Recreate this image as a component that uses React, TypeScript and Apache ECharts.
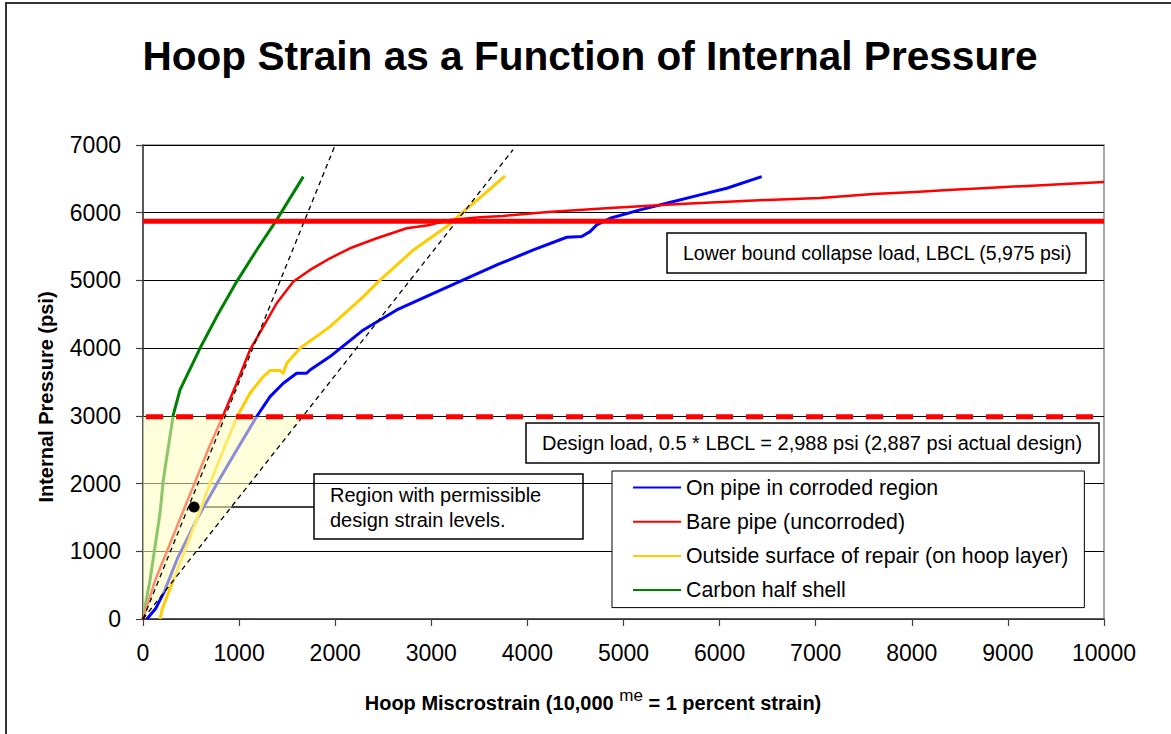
import React, { useEffect, useRef } from "react";
import * as echarts from "echarts";

const FONT = "'Liberation Sans', Arial, Helvetica, sans-serif";

// Axis ranges
const X_MIN = 0;
const X_MAX = 10000;
const X_STEP = 1000;
const Y_MIN = 0;
const Y_MAX = 7000;
const Y_STEP = 1000;

// Series names
const NAME_BLUE = "On pipe in corroded region";
const NAME_RED = "Bare pipe (uncorroded)";
const NAME_YELLOW = "Outside surface of repair (on hoop layer)";
const NAME_GREEN = "Carbon half shell";

// On pipe in corroded region
const blueX = [40, 130, 220, 360, 575, 773, 975, 1190, 1322, 1460, 1599, 1703, 1738, 1946, 2293, 2640, 2986, 3334, 3700, 4062, 4409, 4565, 4652, 4721, 4860, 5172, 5449, 5796, 6074, 6438];
const blueY = [0, 150, 400, 900, 1511, 2009, 2496, 3005, 3284, 3481, 3629, 3629, 3678, 3875, 4269, 4564, 4786, 5007, 5240, 5450, 5638, 5648, 5721, 5820, 5918, 6042, 6140, 6263, 6362, 6533];

// Bare pipe (uncorroded)
const redX = [0, 128, 409, 690, 836, 975, 1113, 1252, 1391, 1565, 1738, 1946, 2154, 2432, 2744, 2986, 3195, 3507, 3747, 4214, 4860, 5588, 6493, 7045, 7597, 8034, 8377, 8783, 9199, 9594, 10000];
const redY = [0, 576, 1561, 2545, 3013, 3481, 3973, 4318, 4663, 4983, 5155, 5327, 5475, 5623, 5770, 5820, 5894, 5933, 5953, 6012, 6071, 6130, 6189, 6219, 6278, 6307, 6337, 6366, 6396, 6425, 6455];

// Outside surface of repair (on hoop layer)
const yellowX = [177, 200, 315, 437, 558, 697, 836, 985, 1113, 1252, 1322, 1426, 1460, 1495, 1634, 1946, 2293, 2449, 2814, 3160, 3334, 3542, 3767];
const yellowY = [0, 150, 576, 1019, 1462, 2004, 2496, 3005, 3334, 3580, 3669, 3669, 3629, 3777, 3998, 4318, 4761, 4983, 5450, 5795, 6017, 6263, 6544];

// Carbon half shell
const greenX = [0, 30, 73, 125, 177, 211, 264, 315, 385, 593, 767, 975, 1183, 1391, 1668];
const greenY = [0, 250, 576, 1068, 1561, 2053, 2545, 3013, 3383, 3998, 4466, 4983, 5450, 5894, 6533];

// Dashed reference (linear-elastic) lines
const ref1X = [0, 2000];
const ref1Y = [0, 7000];
const ref2X = [0, 3850];
const ref2Y = [0, 6930];

// Load levels
const LBCL_LEVEL = 5875;
const DESIGN_LEVEL = 2988;
const levelX = [0, 10000];

// Permissible region polygon
const regionX = [0, 0, 1660];
const regionY = [0, 2988, 2988];

// Annotation dot
const dotX = [531];
const dotY = [1654];

const TITLE = "Hoop Strain as a Function of Internal Pressure";
const Y_NAME = "Internal Pressure (psi)";
const LBCL_TEXT = "Lower bound collapse load, LBCL (5,975 psi)";
const DESIGN_TEXT = "Design load, 0.5 * LBCL = 2,988 psi (2,887 psi actual design)";
const REGION_TEXT = "Region with permissible\ndesign strain levels.";

const zip = (xs: number[], ys: number[]) => xs.map((x, i) => [x, ys[i]]);

const curve = (name: string, xs: number[], ys: number[], color: string, width: number) => ({
  name,
  type: "line",
  data: zip(xs, ys),
  showSymbol: false,
  symbol: "none",
  smooth: false,
  z: 2,
  itemStyle: { color },
  lineStyle: { color, width, join: "round" },
});

const plain = (v: number) => String(v);

export default function App() {
  const ref = useRef<HTMLDivElement>(null);

  useEffect(() => {
    if (!ref.current) return;
    const chart = echarts.init(ref.current, undefined, { renderer: "svg" });

    const option: any = {
      animation: false,
      backgroundColor: "#ffffff",
      grid: {
        left: 143,
        top: 145,
        width: 961,
        height: 474,
        show: true,
        borderColor: "#8a8a8a",
        borderWidth: 1.5,
      },
      xAxis: {
        type: "value",
        min: X_MIN,
        max: X_MAX,
        interval: X_STEP,
        axisLine: { show: true, lineStyle: { color: "#404040", width: 1.5 } },
        axisTick: { show: true, length: 7, lineStyle: { color: "#404040", width: 1.2 } },
        axisLabel: { color: "#000", fontSize: 23, fontFamily: FONT, margin: 22, formatter: plain },
        splitLine: { show: false },
      },
      yAxis: {
        type: "value",
        min: Y_MIN,
        max: Y_MAX,
        interval: Y_STEP,
        axisLine: { show: true, lineStyle: { color: "#404040", width: 1.5 } },
        axisTick: { show: true, length: 7, lineStyle: { color: "#404040", width: 1.2 } },
        axisLabel: { color: "#000", fontSize: 23, fontFamily: FONT, margin: 22, formatter: plain },
        splitLine: { show: true, lineStyle: { color: "#000", width: 1 } },
      },
      legend: {
        left: 612,
        top: 471,
        orient: "vertical",
        backgroundColor: "#fff",
        borderColor: "#000",
        borderWidth: 1,
        padding: [6, 16, 7, 21],
        itemGap: 13.2,
        itemWidth: 48,
        itemHeight: 2,
        icon: "rect",
        textStyle: { fontSize: 21.3, fontFamily: FONT, color: "#000", lineHeight: 20 },
        data: [NAME_BLUE, NAME_RED, NAME_YELLOW, NAME_GREEN],
        z: 10,
      },
      series: [
        curve(NAME_GREEN, greenX, greenY, "#008000", 3),
        curve(NAME_BLUE, blueX, blueY, "#0000ff", 3),
        curve(NAME_YELLOW, yellowX, yellowY, "#ffcc00", 3),
        curve(NAME_RED, redX, redY, "#ff0000", 2.5),
        {
          name: "region",
          type: "custom",
          z: 3,
          silent: true,
          data: [[regionX[0], regionY[0]]],
          renderItem: (params: any, api: any) => {
            if (params.dataIndex !== 0) return null;
            const points = regionX.map((x, i) => api.coord([x, regionY[i]]));
            return {
              type: "polygon",
              shape: { points },
              style: { fill: "rgba(255,255,190,0.55)", stroke: "none" },
            };
          },
        },
        {
          name: "ref1",
          type: "line",
          data: zip(ref1X, ref1Y),
          showSymbol: false,
          symbol: "none",
          z: 4,
          lineStyle: { color: "#000", width: 1.3, type: [5, 4] },
        },
        {
          name: "ref2",
          type: "line",
          data: zip(ref2X, ref2Y),
          showSymbol: false,
          symbol: "none",
          z: 4,
          lineStyle: { color: "#000", width: 1.3, type: [5, 4] },
        },
        {
          name: "design",
          type: "line",
          data: zip(levelX, [DESIGN_LEVEL, DESIGN_LEVEL]),
          showSymbol: false,
          symbol: "none",
          z: 4,
          lineStyle: { color: "#ff0000", width: 5, type: [17, 13], dashOffset: -3 },
        },
        {
          name: "lbcl",
          type: "line",
          data: zip(levelX, [LBCL_LEVEL, LBCL_LEVEL]),
          showSymbol: false,
          symbol: "none",
          z: 4,
          lineStyle: { color: "#ff0000", width: 5 },
        },
        {
          name: "dot",
          type: "scatter",
          data: zip(dotX, dotY),
          symbol: "circle",
          symbolSize: 11,
          z: 30,
          itemStyle: { color: "#000", opacity: 1 },
        },
      ],
      graphic: [
        {
          type: "rect",
          z: -10,
          silent: true,
          shape: { x: 6, y: 3, width: 1300, height: 1000 },
          style: { fill: "none", stroke: "#333", lineWidth: 2 },
        },
        {
          type: "text",
          x: 590,
          y: 56,
          style: {
            text: TITLE,
            fontSize: 40.6,
            fontWeight: "bold",
            fontFamily: FONT,
            fill: "#000",
            align: "center",
            verticalAlign: "middle",
          },
        },
        {
          type: "text",
          x: 46,
          y: 397,
          rotation: Math.PI / 2,
          style: {
            text: Y_NAME,
            fontSize: 20,
            fontWeight: "bold",
            fontFamily: FONT,
            fill: "#000",
            align: "center",
            verticalAlign: "middle",
          },
        },
        {
          type: "text",
          x: 593,
          y: 700,
          style: {
            text: "{b|Hoop Miscrostrain (10,000 }{m|me}{b| = 1 percent strain)}",
            align: "center",
            verticalAlign: "middle",
            rich: {
              b: { fontSize: 20, fontWeight: "bold", fontFamily: FONT, fill: "#000", lineHeight: 26, verticalAlign: "bottom" },
              m: { fontSize: 17, fontWeight: "normal", fontFamily: FONT, fill: "#000", lineHeight: 26, verticalAlign: "top" },
            },
          },
        },
        {
          type: "group",
          z: 20,
          children: [
            {
              type: "rect",
              shape: { x: 667, y: 233, width: 419, height: 40 },
              style: { fill: "#fff", stroke: "#000", lineWidth: 1.5 },
            },
            {
              type: "text",
              x: 683,
              y: 253,
              style: { text: LBCL_TEXT, fontSize: 19.5, fontFamily: FONT, fill: "#000", align: "left", verticalAlign: "middle" },
            },
          ],
        },
        {
          type: "group",
          z: 20,
          children: [
            {
              type: "rect",
              shape: { x: 526, y: 423, width: 573, height: 40 },
              style: { fill: "#fff", stroke: "#000", lineWidth: 1.5 },
            },
            {
              type: "text",
              x: 542,
              y: 443,
              style: { text: DESIGN_TEXT, fontSize: 20, fontFamily: FONT, fill: "#000", align: "left", verticalAlign: "middle" },
            },
          ],
        },
        {
          type: "group",
          z: 20,
          children: [
            {
              type: "line",
              shape: { x1: 194, y1: 507, x2: 314, y2: 507 },
              style: { stroke: "#000", lineWidth: 1.5 },
            },
            {
              type: "rect",
              shape: { x: 314, y: 474, width: 269, height: 65 },
              style: { fill: "#fff", stroke: "#000", lineWidth: 1.5 },
            },
            {
              type: "text",
              x: 330,
              y: 507.5,
              style: { text: REGION_TEXT, fontSize: 20, lineHeight: 25, fontFamily: FONT, fill: "#000", align: "left", verticalAlign: "middle" },
            },
          ],
        },
      ],
    };

    chart.setOption(option);
    return () => chart.dispose();
  }, []);

  return (
    <div
      ref={ref}
      style={{ position: "fixed", left: 0, top: 0, width: 1171, height: 734, background: "#fff" }}
    />
  );
}
